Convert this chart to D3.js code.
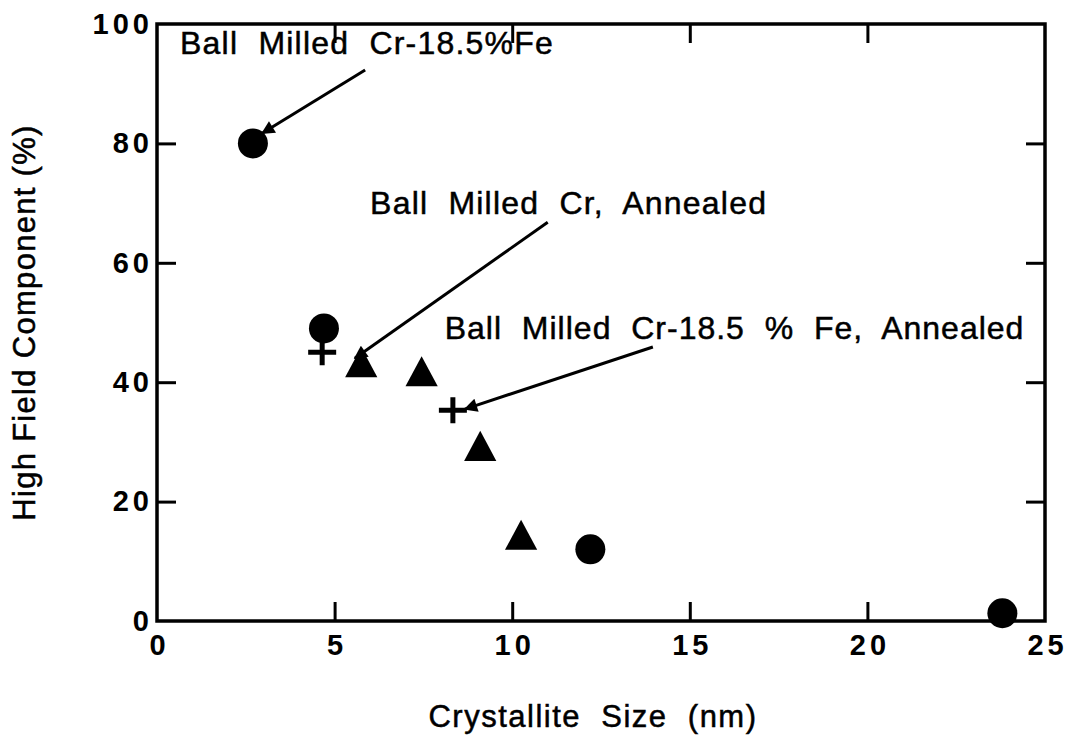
<!DOCTYPE html>
<html>
<head>
<meta charset="utf-8">
<script src="https://cdn.jsdelivr.net/npm/d3@7"></script>
<style>
  html, body { margin: 0; padding: 0; background: #fff; }
  svg { display: block; }
  text { font-family: "Liberation Sans", Arial, Helvetica, sans-serif; fill: #000; white-space: pre; }
</style>
</head>
<body>
<svg id="chart" width="1090" height="755"></svg>
<script>
// ---- data ----
const circleX = [2.7, 4.7, 12.2, 23.8];
const circleY = [80, 49, 12, 1.3];
const triangleX = [5.75, 7.45, 9.1, 10.25];
const triangleY = [42.5, 41, 28.5, 13.6];
const crossX = [4.65, 8.33];
const crossY = [45, 35.3];
const xTicks = [0, 5, 10, 15, 20, 25];
const yTicks = [0, 20, 40, 60, 80, 100];
const xTitle = "Crystallite  Size  (nm)";
const yTitle = "High Field Component (%)";
// annotations: label text, text anchor point (data units), arrow start and tip (data units)
const annoText = ["Ball  Milled  Cr-18.5%Fe", "Ball  Milled  Cr,  Annealed", "Ball  Milled  Cr-18.5  %  Fe,  Annealed"];
const annoTextX = [0.65, 6.0, 8.1];
const annoTextY = [95.0, 68.2, 47.3];
const arrowFromX = [5.86, 11.0, 13.96];
const arrowFromY = [92.3, 66.8, 45.9];
const arrowToX = [2.96, 5.57, 8.67];
const arrowToY = [81.7, 44.0, 35.5];

// ---- layout ----
const svg = d3.select("#chart");
const L = 157, R = 1045, T = 24, B = 621;
const x = d3.scaleLinear().domain([0, 25]).range([L, R]);
const y = d3.scaleLinear().domain([0, 100]).range([B, T]);
const tickLen = 19;

// frame
svg.append("rect").attr("x", L).attr("y", T).attr("width", R - L).attr("height", B - T)
  .attr("fill", "none").attr("stroke", "#000").attr("stroke-width", 3.5);

// axes (ticks inward on all four sides)
const axStyle = g => {
  g.select(".domain").remove();
  g.selectAll(".tick line").attr("stroke", "#000").attr("stroke-width", 3);
  g.selectAll(".tick text").style("font-size", "29px").style("font-weight", "bold")
    .style("letter-spacing", "4px").attr("fill", "#000");
};
svg.append("g").attr("transform", `translate(0,${B})`)
  .call(d3.axisBottom(x).tickValues(xTicks).tickSize(-tickLen).tickPadding(13).tickFormat(d3.format("d")))
  .call(axStyle)
  .selectAll(".tick text").attr("dx", "2px");
svg.append("g").attr("transform", `translate(0,${T})`)
  .call(d3.axisTop(x).tickValues(xTicks.slice(1, -1)).tickSize(-tickLen).tickFormat(""))
  .call(axStyle);
svg.append("g").attr("transform", `translate(${L},0)`)
  .call(d3.axisLeft(y).tickValues(yTicks).tickSize(-tickLen).tickPadding(4).tickFormat(d3.format("d")))
  .call(axStyle);
svg.append("g").attr("transform", `translate(${R},0)`)
  .call(d3.axisRight(y).tickValues(yTicks.slice(1, -1)).tickSize(-tickLen).tickFormat(""))
  .call(axStyle);
// tick lines at the corners coincide with the frame
svg.selectAll(".tick").filter(d => d === 0 || d === 25 || d === 100).select("line").remove();

// axis titles
svg.append("text").attr("x", (L + R) / 2 - 8).attr("y", 727).attr("text-anchor", "middle")
  .style("font-size", "31px").style("letter-spacing", "1.5px").attr("stroke", "#000").attr("stroke-width", 0.5)
  .text(xTitle);
svg.append("text").attr("transform", `translate(35,${(T + B) / 2}) rotate(-90)`).attr("text-anchor", "middle")
  .style("font-size", "31px").style("letter-spacing", "1.3px").attr("stroke", "#000").attr("stroke-width", 0.5)
  .text(yTitle);

// markers
svg.append("g").selectAll("circle").data(circleX).join("circle")
  .attr("cx", (d, i) => x(d)).attr("cy", (d, i) => y(circleY[i])).attr("r", 15).attr("fill", "#000");

const tri = d3.symbol().type(d3.symbolTriangle).size(450);
svg.append("g").selectAll("path").data(triangleX).join("path")
  .attr("d", tri).attr("transform", (d, i) => `translate(${x(d)},${y(triangleY[i])}) scale(1,1.08)`).attr("fill", "#000");

svg.append("g").selectAll("path").data(crossX).join("path")
  .attr("d", (d, i) => {
    const cx = x(d), cy = y(crossY[i]);
    return `M${cx - 14},${cy}H${cx + 14}M${cx},${cy - 13}V${cy + 13}`;
  })
  .attr("stroke", "#000").attr("stroke-width", 5).attr("fill", "none");

// annotations
const defs = svg.append("defs");
defs.append("marker").attr("id", "ah").attr("viewBox", "0 0 10 10").attr("refX", 9).attr("refY", 5)
  .attr("markerWidth", 6).attr("markerHeight", 4.5).attr("markerUnits", "strokeWidth").attr("orient", "auto")
  .append("path").attr("d", "M0,0L10,5L0,10Z").attr("fill", "#000");

const ann = svg.append("g");
annoText.forEach((t, i) => {
  ann.append("text").attr("x", x(annoTextX[i])).attr("y", y(annoTextY[i]))
    .style("font-size", "32px").style("letter-spacing", i === 2 ? "1px" : "1.2px")
    .attr("stroke", "#000").attr("stroke-width", 0.5)
    .text(t);
  ann.append("line").attr("x1", x(arrowFromX[i])).attr("y1", y(arrowFromY[i]))
    .attr("x2", x(arrowToX[i])).attr("y2", y(arrowToY[i]))
    .attr("stroke", "#000").attr("stroke-width", 3).attr("marker-end", "url(#ah)");
});
</script>
</body>
</html>
